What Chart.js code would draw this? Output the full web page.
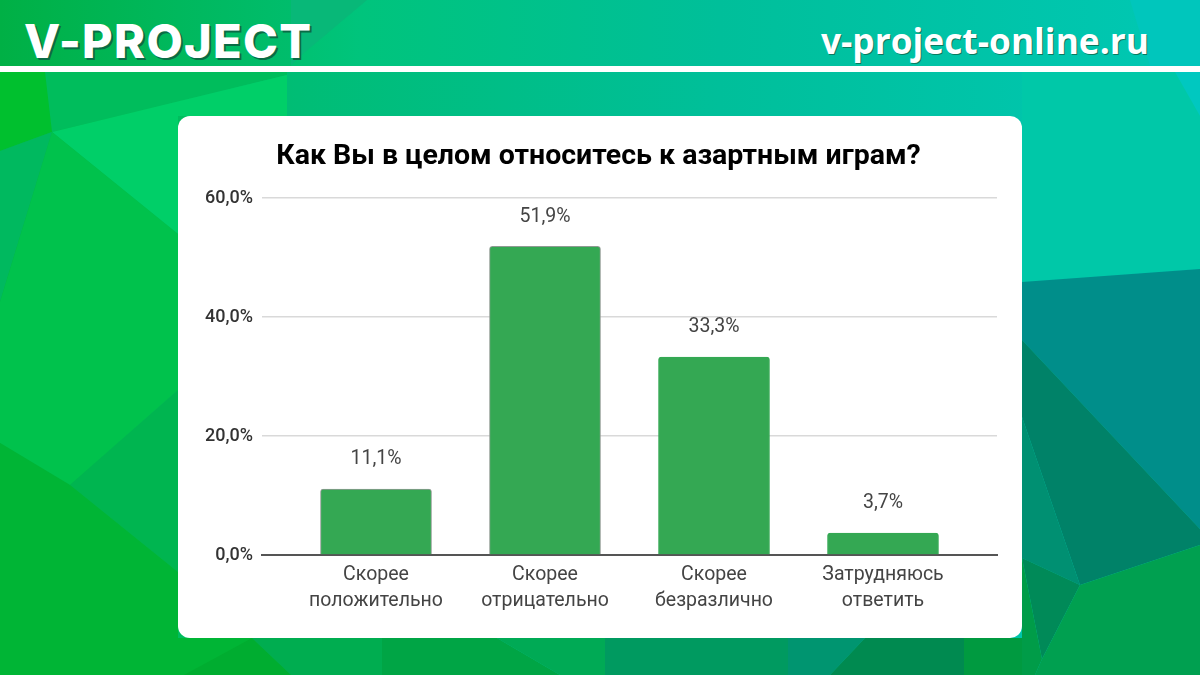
<!DOCTYPE html>
<html lang="ru">
<head>
<meta charset="utf-8">
<title>Как Вы в целом относитесь к азартным играм?</title>
<script src="https://cdn.jsdelivr.net/npm/chart.js@4"></script>
<style>
  html, body { margin: 0; padding: 0; }
  #page { position: relative; width: 1200px; height: 675px; overflow: hidden; }
  #page svg, #page canvas { position: absolute; left: 0; top: 0; }
  #rule { position: absolute; left: 0; top: 66px; width: 1200px; height: 6px; background: #fff; }
  #card { position: absolute; left: 178px; top: 116px; width: 844px; height: 522px; background: #fff; border-radius: 12px; }
  #logo { position: absolute; left: 24px; top: 12px; font: 800 47px/58px Inter, sans-serif; letter-spacing: 1.3px; color: #fff; text-shadow: 2px 2px 0 #0a6b45; }
  #site { position: absolute; right: 51px; top: 17px; font: 700 35.3px/46px "Open Sans", sans-serif; color: #fff; text-shadow: 1px 1px 0 #0a7a60; }
</style>
</head>
<body>
<div id="page">
  <svg width="1200" height="675" viewBox="0 0 1200 675">
    <defs>
      <linearGradient id="base" x1="0" y1="0" x2="1" y2="0">
        <stop offset="0" stop-color="#00b640"/>
        <stop offset="0.3" stop-color="#00c47c"/>
        <stop offset="0.6" stop-color="#00bf9a"/>
        <stop offset="1" stop-color="#00c8b4"/>
      </linearGradient>
      <linearGradient id="topLeft" x1="0" y1="0" x2="1" y2="0">
        <stop offset="0" stop-color="#00b045"/>
        <stop offset="1" stop-color="#00bd6c"/>
      </linearGradient>
      <linearGradient id="midBand" x1="0" y1="0" x2="1" y2="0">
        <stop offset="0" stop-color="#00bd74"/>
        <stop offset="1" stop-color="#00bf9a"/>
      </linearGradient>
    </defs>
    <rect width="1200" height="675" fill="url(#base)"/>
    <!-- header band -->
    <polygon points="0,0 291,0 291,66 0,66" fill="url(#topLeft)"/>
    <polygon points="291,0 367,0 298,58 291,66" fill="#08b878"/>
    <polygon points="1130,0 1200,0 1200,66 1150,66" fill="#00c6bc"/>
    <!-- left side -->
    <polygon points="287,72 720,72 720,116 287,116" fill="url(#midBand)"/>
    <polygon points="0,72 287,72 287,75 52,132 0,151" fill="#00bd5c"/>
    <polygon points="0,72 45,72 52,132 0,151" fill="#00c02e"/>
    <polygon points="52,132 287,75 287,116 178,116 178,234" fill="#00cf68"/>
    <polygon points="0,151 52,132 0,302" fill="#00b95f"/>
    <polygon points="52,132 178,234 178,390 70,485 0,443 0,302" fill="#00c24c"/>
    <polygon points="70,485 178,390 178,572" fill="#00b550"/>
    <polygon points="0,443 70,485 178,572 178,675 0,675" fill="#00b535"/>
    <!-- right side -->
    <polygon points="1022,72 1200,72 1200,269 1022,282" fill="#00c8a8"/>
    <polygon points="1175,72 1200,72 1200,116" fill="#00c8c0"/>
    <polygon points="1022,282 1200,269 1200,529 1022,340" fill="#008e8a"/>
    <polygon points="1022,340 1200,529 1200,545 1080,585 1022,417" fill="#008268"/>
    <polygon points="1022,417 1080,585 1022,558" fill="#009072"/>
    <polygon points="1022,558 1080,585 1042,659" fill="#008a58"/>
    <polygon points="1080,585 1200,545 1200,675 1035,675 1042,659" fill="#00a050"/>
    <polygon points="1022,558 1042,659 1035,675 1022,675" fill="#009c48"/>
    <!-- bottom strip -->
    <polygon points="178,638 291,638 291,675 178,675" fill="#00b535"/>
    <polygon points="252,638 184,675 291,675" fill="#00ad30"/>
    <polygon points="252,638 382,638 382,675 291,675" fill="#00ad50"/>
    <polygon points="382,638 497,638 560,675 382,675" fill="#00a545"/>
    <polygon points="497,638 605,638 605,675 560,675" fill="#00aa55"/>
    <polygon points="605,638 788,638 788,675 605,675" fill="#009a60"/>
    <polygon points="788,638 865,638 830,675 788,675" fill="#009570"/>
    <polygon points="865,638 964,638 964,675 830,675" fill="#008a50"/>
    <polygon points="964,638 1022,638 1022,675 964,675" fill="#009a40"/>
  </svg>
  <div id="rule"></div>
  <div id="logo">V-PROJECT</div>
  <div id="site">v-project-online.ru</div>
  <div id="card"></div>
  <canvas id="surveyChart" width="1200" height="675"></canvas>
</div>

<script>
const categories = [
  ["Скорее", "положительно"],
  ["Скорее", "отрицательно"],
  ["Скорее", "безразлично"],
  ["Затрудняюсь", "ответить"],
]
const shares = [11.1, 51.9, 33.3, 3.7]
const shareLabels = ["11,1%", "51,9%", "33,3%", "3,7%"]
const yTickLabels = ["0,0%", "20,0%", "40,0%", "60,0%"]
const chartTitle = "Как Вы в целом относитесь к азартным играм?"

// prints the value above each bar, Chart.js has no built in data labels
const barValueLabels = {
  id: "barValueLabels",
  afterDatasetsDraw(chart) {
    const ctx = chart.ctx
    ctx.save()
    ctx.font = "19.5px Roboto"
    ctx.fillStyle = "#444"
    ctx.textAlign = "center"
    ctx.textBaseline = "middle"
    chart.getDatasetMeta(0).data.forEach((bar, i) => {
      ctx.fillText(shareLabels[i], bar.x, bar.y - 29.5)
    })
    ctx.restore()
  },
}

new Chart(document.getElementById("surveyChart"), {
  type: "bar",
  data: {
    datasets: [
      {
        data: shares.map((value, i) => ({ x: i, y: value })),
        backgroundColor: "#34a853",
        borderColor: ["#8f9a92", "#8f9a92", "#34a853", "#34a853"],
        borderWidth: 1,
        borderRadius: 3,
        borderSkipped: "bottom",
        barThickness: 111,
      },
    ],
  },
  plugins: [barValueLabels],
  options: {
    responsive: false,
    animation: false,
    layout: {
      autoPadding: false,
      padding: { left: 200, right: 203, top: 140, bottom: 40 },
    },
    plugins: {
      legend: { display: false },
      tooltip: { enabled: false },
      title: {
        display: true,
        text: chartTitle,
        color: "#000",
        font: { family: "Roboto", size: 28.5, weight: "700", lineHeight: 1.2 },
        padding: { top: 0, bottom: 24 },
      },
    },
    scales: {
      x: {
        type: "linear",
        // wider than the bars so the gridlines run past the outer categories
        offset: false,
        min: -0.6746,
        max: 3.6746,
        afterBuildTicks(scale) {
          scale.ticks = categories.map((_, i) => ({ value: i }))
        },
        afterFit(scale) {
          scale.height = 80
        },
        grid: { display: false },
        border: { color: "#555", width: 2 },
        ticks: {
          autoSkip: false,
          maxRotation: 0,
          padding: -1,
          color: "#444",
          font: { family: "Roboto", size: 19.5, lineHeight: 1.33 },
          callback: (value) => categories[value],
        },
      },
      y: {
        min: 0,
        max: 60,
        afterFit(scale) {
          scale.width = 62
        },
        grid: { color: "#d9d9d9", lineWidth: 1.5, drawTicks: false },
        border: { display: false },
        ticks: {
          stepSize: 20,
          padding: 9,
          color: "#333",
          font: { family: "Roboto", size: 18, weight: "500" },
          callback: (value, i) => yTickLabels[i],
        },
      },
    },
  },
})
</script>
</body>
</html>
